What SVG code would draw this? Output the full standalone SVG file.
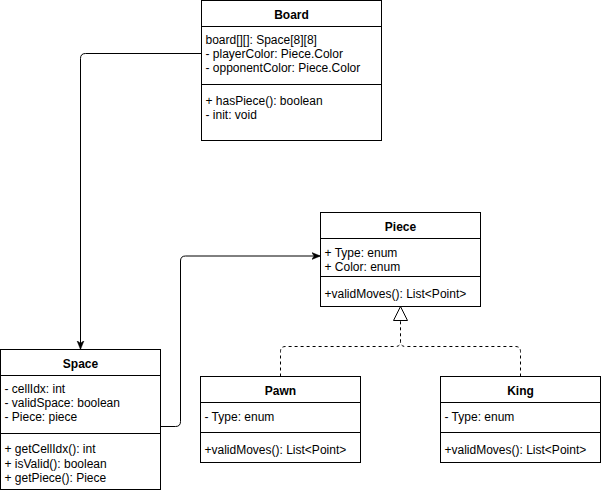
<svg xmlns="http://www.w3.org/2000/svg" width="601" height="493" viewBox="0 0 601 493">
<defs>
<style>
.box{fill:#ffffff;stroke:#000000;stroke-width:1}
.div{stroke:#000000;stroke-width:1;fill:none}
.t{font-family:"Liberation Sans",Arial,sans-serif;font-size:12px;fill:#000000}
.h{font-family:"Liberation Sans",Arial,sans-serif;font-size:12px;font-weight:bold;fill:#000000;text-anchor:middle}
.edge{fill:none;stroke:#000000;stroke-width:1}
.dash{fill:none;stroke:#000000;stroke-width:1;stroke-dasharray:3 3}
</style>
<marker id="arrow" viewBox="0 0 10 10" refX="10" refY="5" markerWidth="9" markerHeight="9" markerUnits="userSpaceOnUse" orient="auto">
<path d="M0,1 L10,5 L0,9 L3,5 Z" fill="#000000" stroke="#000000" stroke-width="0.5"/>
</marker>
</defs>
<rect width="601" height="493" fill="#ffffff"/>
<g id="connectors">
<path class="edge" d="M201.5,53.5 H85.5 Q80.5,53.5 80.5,58.5 V349.5" marker-end="url(#arrow)"/>
<path class="edge" d="M160.5,426.5 H175.5 Q180.5,426.5 180.5,421.5 V261 Q180.5,256 185.5,256 H320.5" marker-end="url(#arrow)"/>
<path class="dash" d="M280.5,376.5 V351.5 Q280.5,346.5 285.5,346.5 H395.5 Q400.5,346.5 400.5,341.5 V320.5"/>
<path class="dash" d="M520.5,376.5 V351.5 Q520.5,346.5 515.5,346.5 H405.5 Q400.5,346.5 400.5,341.5"/>
<polygon points="400.5,306.5 393.5,320.5 407.5,320.5" fill="#ffffff" stroke="#000000" stroke-width="1"/>
</g>
<g id="board">
<rect class="box" x="201.5" y="0.5" width="180" height="140"/>
<line class="div" x1="201.5" y1="26.5" x2="381.5" y2="26.5"/>
<line class="div" x1="201.5" y1="84.5" x2="381.5" y2="84.5"/>
<text class="h" x="291.5" y="18.5">Board</text>
<text class="t" x="205.5" y="44">board[][]: Space[8][8]</text>
<text class="t" x="205.5" y="58">- playerColor: Piece.Color</text>
<text class="t" x="205.5" y="72">- opponentColor: Piece.Color</text>
<text class="t" x="205.5" y="105">+ hasPiece(): boolean</text>
<text class="t" x="205.5" y="119">- init: void</text>
</g>
<g id="space">
<rect class="box" x="0.5" y="349.5" width="160" height="140"/>
<line class="div" x1="0.5" y1="375.5" x2="160.5" y2="375.5"/>
<line class="div" x1="0.5" y1="433.5" x2="160.5" y2="433.5"/>
<text class="h" x="80.5" y="367.5">Space</text>
<text class="t" x="4.5" y="392.5">- cellIdx: int</text>
<text class="t" x="4.5" y="406.5">- validSpace: boolean</text>
<text class="t" x="4.5" y="420.5">- Piece: piece</text>
<text class="t" x="4.5" y="453">+ getCellIdx(): int</text>
<text class="t" x="4.5" y="467.5">+ isValid(): boolean</text>
<text class="t" x="4.5" y="482">+ getPiece(): Piece</text>
</g>
<g id="piece">
<rect class="box" x="320.5" y="212.5" width="160" height="94"/>
<line class="div" x1="320.5" y1="238.5" x2="480.5" y2="238.5"/>
<line class="div" x1="320.5" y1="276.5" x2="480.5" y2="276.5"/>
<text class="h" x="400.5" y="230.5">Piece</text>
<text class="t" x="324.5" y="256.5">+ Type: enum</text>
<text class="t" x="324.5" y="270.5">+ Color: enum</text>
<text class="t" x="324.5" y="298">+validMoves(): List&lt;Point&gt;</text>
</g>
<g id="pawn">
<rect class="box" x="200.5" y="376.5" width="160" height="86"/>
<line class="div" x1="200.5" y1="402.5" x2="360.5" y2="402.5"/>
<line class="div" x1="200.5" y1="432.5" x2="360.5" y2="432.5"/>
<text class="h" x="280.5" y="394.5">Pawn</text>
<text class="t" x="204.5" y="421">- Type: enum</text>
<text class="t" x="204.5" y="453.5">+validMoves(): List&lt;Point&gt;</text>
</g>
<g id="king">
<rect class="box" x="440.5" y="376.5" width="160" height="86"/>
<line class="div" x1="440.5" y1="402.5" x2="600.5" y2="402.5"/>
<line class="div" x1="440.5" y1="432.5" x2="600.5" y2="432.5"/>
<text class="h" x="520.5" y="394.5">King</text>
<text class="t" x="444.5" y="421">- Type: enum</text>
<text class="t" x="444.5" y="453.5">+validMoves(): List&lt;Point&gt;</text>
</g>
</svg>
